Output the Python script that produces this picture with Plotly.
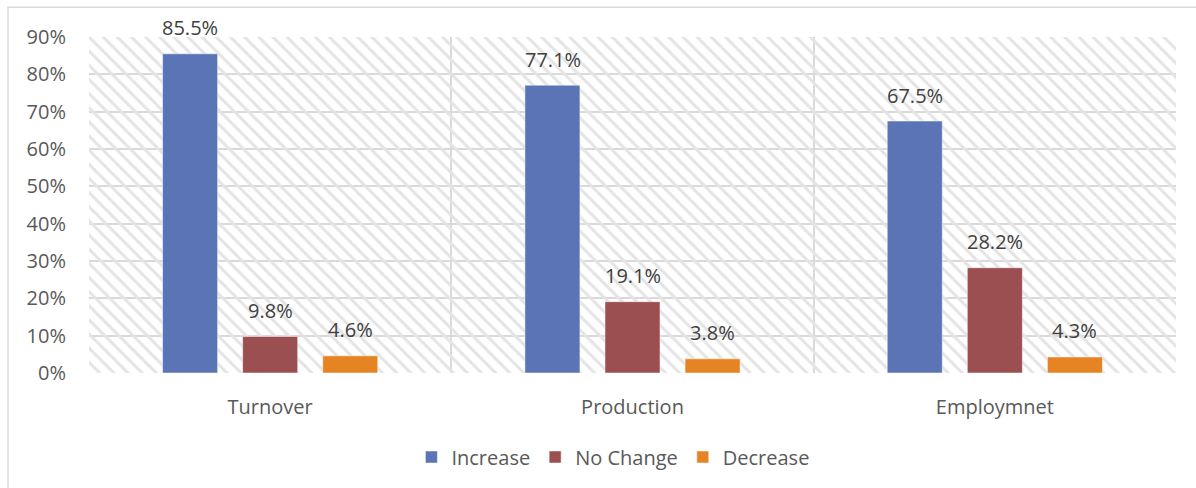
import plotly.graph_objects as go

categories = ["Turnover", "Production", "Employmnet"]
increase = [0.855, 0.771, 0.675]
no_change = [0.098, 0.191, 0.282]
decrease = [0.046, 0.038, 0.043]
series_names = ["Increase", "No Change", "Decrease"]
series_colors = ["#5B74B5", "#9B4F51", "#E68424"]
y_ticks = [0, 0.1, 0.2, 0.3, 0.4, 0.5, 0.6, 0.7, 0.8, 0.9]
y_max = 0.9

FONT = "Open Sans, sans-serif"
GRID = "#d9d9d9"
FS = 20
SLOT_PX = 80  # pixel distance between bars of one group

fig = go.Figure()

# hatched plot background drawn as a patterned bar spanning the base axis
fig.add_trace(go.Bar(
    x=[len(categories) / 2], y=[y_max], width=[len(categories)],
    xaxis="x", yaxis="y",
    marker=dict(color="#e4e4e4", line=dict(width=0),
                pattern=dict(shape="\\", size=10, solidity=0.3, fillmode="replace")),
    showlegend=False, hoverinfo="skip",
))

annotations = []
all_series = [increase, no_change, decrease]
for i, (name, vals, col) in enumerate(zip(series_names, all_series, series_colors)):
    fig.add_trace(go.Bar(
        name=name, x=categories, y=vals, xaxis="x2", yaxis="y",
        marker=dict(color=col, line=dict(color="rgba(255,255,255,0.5)", width=1)),
        hoverinfo="x+y+name",
    ))
    for cat, v in zip(categories, vals):
        annotations.append(dict(
            x=cat, y=v, xref="x2", yref="y", text=f"{v*100:.1f}%",
            showarrow=False, yanchor="middle", yshift=26,
            xshift=(i - (len(series_names) - 1) / 2) * SLOT_PX,
            font=dict(family=FONT, size=FS, color="#404040"),
        ))

fig.update_layout(
    width=1196, height=488,
    margin=dict(l=89, r=20, t=37, b=113),
    paper_bgcolor="white", plot_bgcolor="white",
    barmode="group", bargap=0.337, bargroupgap=0.3125,
    font=dict(family=FONT, size=FS, color="#595959"),
    xaxis=dict(range=[0, len(categories)], dtick=1, tick0=0, showgrid=True,
               gridcolor=GRID, gridwidth=2, showticklabels=False, zeroline=False,
               showline=False, fixedrange=True),
    xaxis2=dict(overlaying="x", side="bottom", type="category",
                range=[-0.5, len(categories) - 0.5], showgrid=False, showline=False,
                ticks="", ticklabelstandoff=20,
                tickfont=dict(family=FONT, size=FS, color="#595959")),
    yaxis=dict(range=[0, y_max], tickvals=y_ticks, tickformat=".0%",
               showgrid=True, gridcolor=GRID, gridwidth=2, zeroline=False,
               showline=False, ticks="", ticklabelstandoff=22,
               tickfont=dict(family=FONT, size=FS, color="#595959")),
    legend=dict(orientation="h", x=0.482, xanchor="center", y=-0.25, yanchor="middle",
                font=dict(family=FONT, size=FS, color="#595959"),
                itemclick=False, bgcolor="rgba(0,0,0,0)"),
    annotations=annotations,
    shapes=[dict(type="rect", xref="paper", yref="paper",
                 x0=-0.0745, x1=1.03, y0=-0.4, y1=1.0888,
                 line=dict(color=GRID, width=1.5), layer="below")],
)

fig.write_html("out.html")
